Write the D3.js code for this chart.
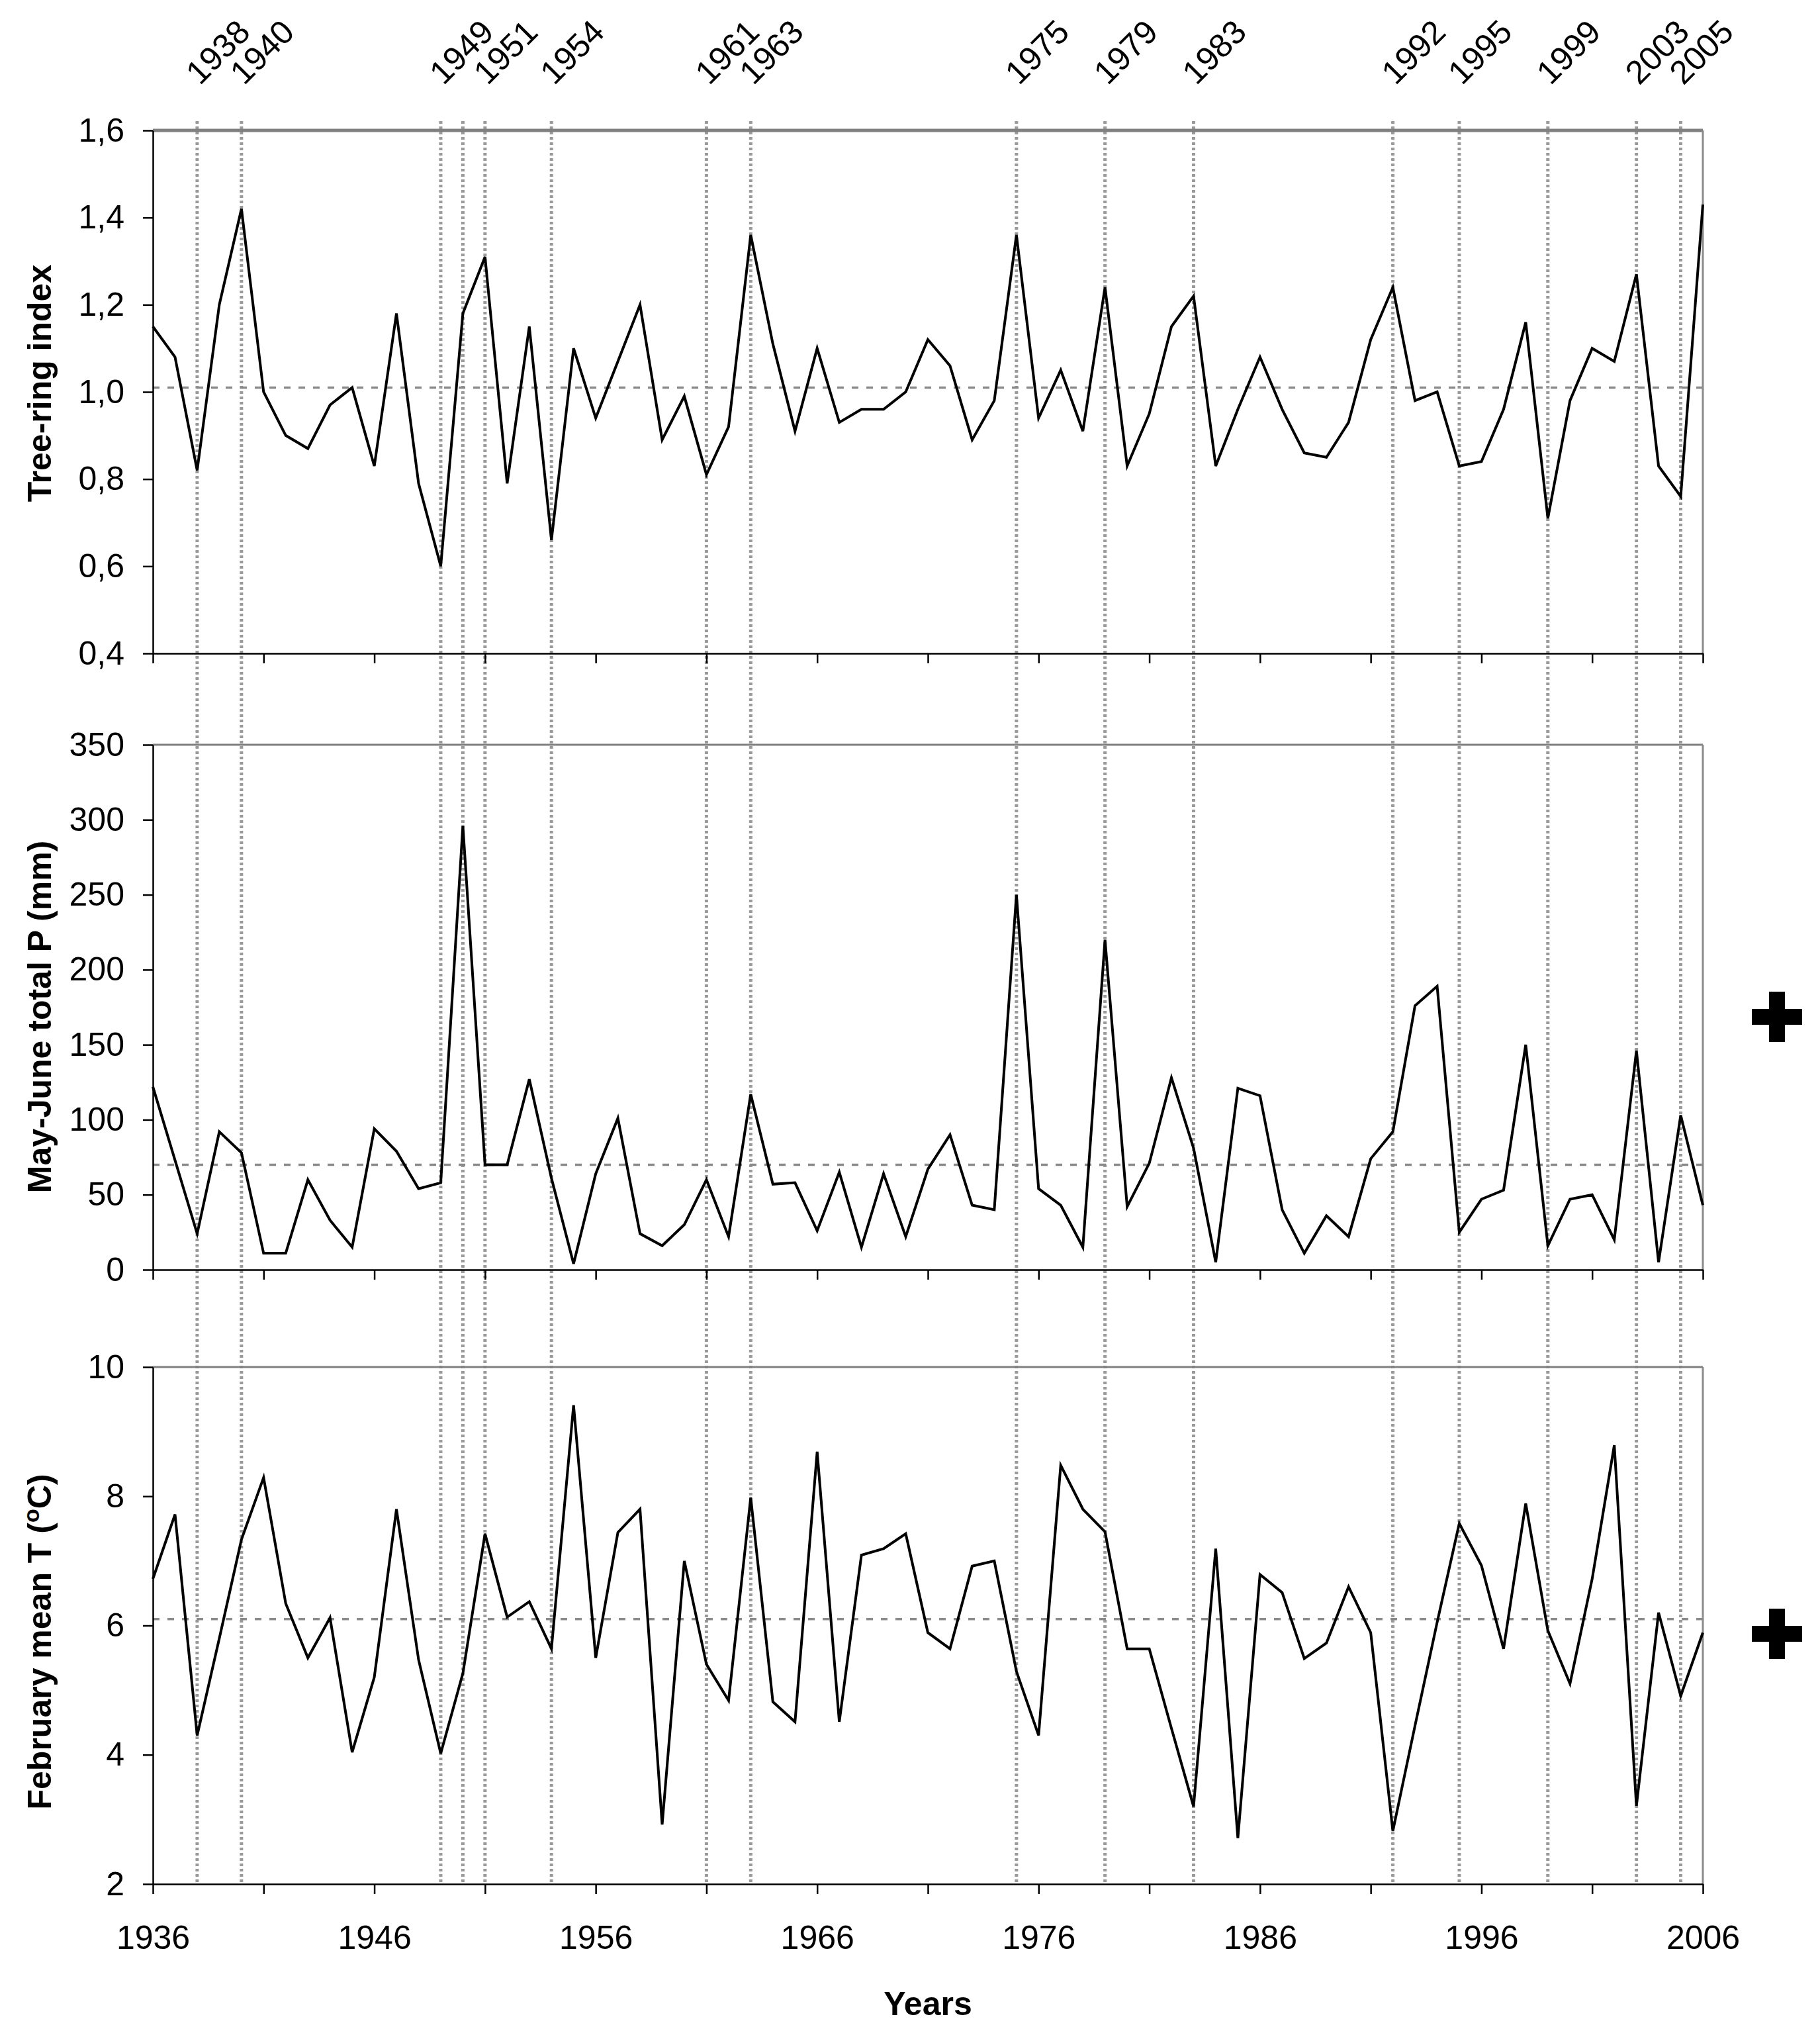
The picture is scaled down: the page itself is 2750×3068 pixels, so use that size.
<!DOCTYPE html>
<html>
<head>
<meta charset="utf-8">
<script src="https://cdn.jsdelivr.net/npm/d3@7"></script>
<style>
  html, body { margin: 0; padding: 0; background: #ffffff; }
  svg { display: block; }
</style>
</head>
<body>
<svg id="chart" width="2750" height="3068"></svg>
<script>
// ---------------- DATA ----------------
const firstYear = 1936;
const lastYear = 2006;

const treeRingIndex = [
  1.15, 1.08, 0.82, 1.20, 1.42, 1.00, 0.90, 0.87, 0.97, 1.01,  // 1936-1945
  0.83, 1.18, 0.79, 0.60, 1.18, 1.31, 0.79, 1.15, 0.66, 1.10,  // 1946-1955
  0.94, 1.07, 1.20, 0.89, 0.99, 0.81, 0.92, 1.36, 1.11, 0.91,  // 1956-1965
  1.10, 0.93, 0.96, 0.96, 1.00, 1.12, 1.06, 0.89, 0.98, 1.36,  // 1966-1975
  0.94, 1.05, 0.91, 1.24, 0.83, 0.95, 1.15, 1.22, 0.83, 0.96,  // 1976-1985
  1.08, 0.96, 0.86, 0.85, 0.93, 1.12, 1.24, 0.98, 1.00, 0.83,  // 1986-1995
  0.84, 0.96, 1.16, 0.71, 0.98, 1.10, 1.07, 1.27, 0.83, 0.76,  // 1996-2005
  1.43                                                         // 2006
];

const mayJunePrecip = [
  122, 73, 24, 92, 78, 11, 11, 60, 33, 15,     // 1936-1945
  94, 79, 54, 58, 296, 70, 70, 127, 61, 4,     // 1946-1955
  64, 101, 24, 16, 30, 60, 22, 117, 57, 58,    // 1956-1965
  26, 65, 15, 64, 22, 67, 90, 43, 40, 250,     // 1966-1975
  54, 43, 15, 220, 42, 71, 128, 81, 5, 121,    // 1976-1985
  116, 40, 11, 36, 22, 74, 92, 176, 189, 25,   // 1986-1995
  47, 53, 150, 16, 47, 50, 20, 146, 5, 103,    // 1996-2005
  43                                           // 2006
];

const februaryTemp = [
  6.72, 7.72, 4.30, 5.80, 7.33, 8.29, 6.34, 5.50, 6.12, 4.04,  // 1936-1945
  5.20, 7.80, 5.47, 4.02, 5.26, 7.42, 6.13, 6.37, 5.64, 9.41,  // 1946-1955
  5.50, 7.44, 7.80, 2.92, 7.00, 5.40, 4.84, 7.98, 4.82, 4.51,  // 1956-1965
  8.69, 4.51, 7.09, 7.19, 7.42, 5.89, 5.64, 6.92, 7.00, 5.29,  // 1966-1975
  4.30, 8.48, 7.80, 7.45, 5.64, 5.64, 4.41, 3.20, 7.19, 2.71,  // 1976-1985
  6.79, 6.51, 5.49, 5.73, 6.60, 5.89, 2.82, 4.45, 6.05, 7.58,  // 1986-1995
  6.93, 5.64, 7.89, 5.92, 5.10, 6.72, 8.79, 3.21, 6.20, 4.91,  // 1996-2005
  5.89                                                         // 2006
];

const treeRingMean = 1.01;
const precipMean = 70;
const tempMean = 6.1;

const eventYears = [1938, 1940, 1949, 1950, 1951, 1954, 1961, 1963, 1975, 1979, 1983, 1992, 1995, 1999, 2003, 2005];
const labeledEventYears = [1938, 1940, 1949, 1951, 1954, 1961, 1963, 1975, 1979, 1983, 1992, 1995, 1999, 2003, 2005];

const treeRingTicks = [0.4, 0.6, 0.8, 1.0, 1.2, 1.4, 1.6];
const precipTicks = [0, 50, 100, 150, 200, 250, 300, 350];
const tempTicks = [2, 4, 6, 8, 10];
const yearTicks = [1936, 1941, 1946, 1951, 1956, 1961, 1966, 1971, 1976, 1981, 1986, 1991, 1996, 2001, 2006];
const yearTickLabels = [1936, 1946, 1956, 1966, 1976, 1986, 1996, 2006];

const plusPanels = ["precip", "temp"];

// ---------------- LAYOUT ----------------
const FONT = "'Liberation Sans', Arial, Helvetica, sans-serif";
const years = d3.range(firstYear, lastYear + 1);
const svg = d3.select("#chart");

const x = d3.scaleLinear().domain([firstYear, lastYear]).range([231, 2573]);

const panels = [
  { key: "tree", values: treeRingIndex, domain: [0.4, 1.6], ticks: treeRingTicks,
    fmt: d => d3.format(".1f")(d).replace(".", ","), top: 197, bottom: 987,
    mean: treeRingMean, topBorder: 5 },
  { key: "precip", values: mayJunePrecip, domain: [0, 350], ticks: precipTicks,
    fmt: d => String(d), top: 1125, bottom: 1918, mean: precipMean, topBorder: 3 },
  { key: "temp", values: februaryTemp, domain: [2, 10], ticks: tempTicks,
    fmt: d => String(d), top: 2065, bottom: 2846, mean: tempMean, topBorder: 3 }
];
panels.forEach(p => { p.y = d3.scaleLinear().domain(p.domain).range([p.bottom, p.top]); });

const x0 = x(firstYear), x1 = x(lastYear);

// Vertical event lines spanning all panels
svg.append("g").selectAll("line").data(eventYears).join("line")
  .attr("x1", d => x(d)).attr("x2", d => x(d))
  .attr("y1", 183).attr("y2", panels[2].bottom)
  .attr("stroke", "#9a9a9a").attr("stroke-width", 5)
  .attr("stroke-dasharray", "4,4");

panels.forEach(p => {
  const g = svg.append("g");

  // top & right frame (grey)
  g.append("line").attr("x1", x0).attr("x2", x1).attr("y1", p.top).attr("y2", p.top)
    .attr("stroke", "#808080").attr("stroke-width", p.topBorder);
  g.append("line").attr("x1", x1).attr("x2", x1).attr("y1", p.top).attr("y2", p.bottom)
    .attr("stroke", "#8c8c8c").attr("stroke-width", 3);

  // mean line
  g.append("line").attr("x1", x0).attr("x2", x1)
    .attr("y1", p.y(p.mean)).attr("y2", p.y(p.mean))
    .attr("stroke", "#8a8a8a").attr("stroke-width", 3.5)
    .attr("stroke-dasharray", "10,12");

  // left axis
  const ya = g.append("g").attr("transform", `translate(${x0},0)`)
    .call(d3.axisLeft(p.y).tickValues(p.ticks).tickFormat(p.fmt)
      .tickSize(15).tickSizeOuter(0).tickPadding(28));
  ya.select(".domain").attr("stroke", "#000").attr("stroke-width", 2.5);
  ya.selectAll(".tick line").attr("stroke", "#000").attr("stroke-width", 2.5);
  ya.selectAll("text").attr("font-size", 50).attr("font-family", FONT).attr("fill", "#000");

  // bottom axis
  const isLast = p.key === "temp";
  const xa = g.append("g").attr("transform", `translate(0,${p.bottom})`)
    .call(d3.axisBottom(x).tickValues(yearTicks)
      .tickFormat(d => (isLast && yearTickLabels.includes(d)) ? String(d) : "")
      .tickSize(15).tickSizeOuter(0).tickPadding(47));
  xa.select(".domain").attr("stroke", "#000").attr("stroke-width", 2.5);
  xa.selectAll(".tick line").attr("stroke", "#000").attr("stroke-width", 2.5);
  xa.selectAll("text").attr("font-size", 50).attr("font-family", FONT).attr("fill", "#000");

  // data line
  const line = d3.line().x((d, i) => x(years[i])).y(d => p.y(d));
  g.append("path").datum(p.values)
    .attr("d", line).attr("fill", "none")
    .attr("stroke", "#000").attr("stroke-width", 4)
    .attr("stroke-linejoin", "miter");

  // plus markers
  if (plusPanels.includes(p.key)) {
    const cx = 2685, cy = p.key === "precip" ? 1536 : 2468;
    const s = 76, t = 24;
    g.append("rect").attr("x", cx - s / 2).attr("y", cy - t / 2).attr("width", s).attr("height", t).attr("fill", "#000");
    g.append("rect").attr("x", cx - t / 2).attr("y", cy - s / 2).attr("width", t).attr("height", s).attr("fill", "#000");
  }
});

// Y axis titles
const titleX = 77;
svg.append("text").attr("transform", `translate(${titleX},579) rotate(-90)`)
  .attr("text-anchor", "middle").attr("font-family", FONT).attr("font-weight", "bold")
  .attr("font-size", 50).text("Tree-ring index");
svg.append("text").attr("transform", `translate(${titleX},1536) rotate(-90)`)
  .attr("text-anchor", "middle").attr("font-family", FONT).attr("font-weight", "bold")
  .attr("font-size", 50).text("May-June total P (mm)");
const tT = svg.append("text").attr("transform", `translate(${titleX},2480) rotate(-90)`)
  .attr("text-anchor", "middle").attr("font-family", FONT).attr("font-weight", "bold")
  .attr("font-size", 50);
tT.append("tspan").text("February mean T (");
tT.append("tspan").attr("font-size", 34).attr("dy", -18).text("o");
tT.append("tspan").attr("dy", 18).text("C)");

// X axis title
svg.append("text").attr("x", (x0 + x1) / 2).attr("y", 3044)
  .attr("text-anchor", "middle").attr("font-family", FONT).attr("font-weight", "bold")
  .attr("font-size", 50).text("Years");

// Rotated event-year labels at top
svg.append("g").selectAll("text").data(labeledEventYears).join("text")
  .attr("transform", d => `translate(${x(d) + 4},130) rotate(-45)`)
  .attr("text-anchor", "start").attr("font-family", FONT)
  .attr("font-size", 50).attr("fill", "#000")
  .text(d => String(d));
</script>
</body>
</html>
